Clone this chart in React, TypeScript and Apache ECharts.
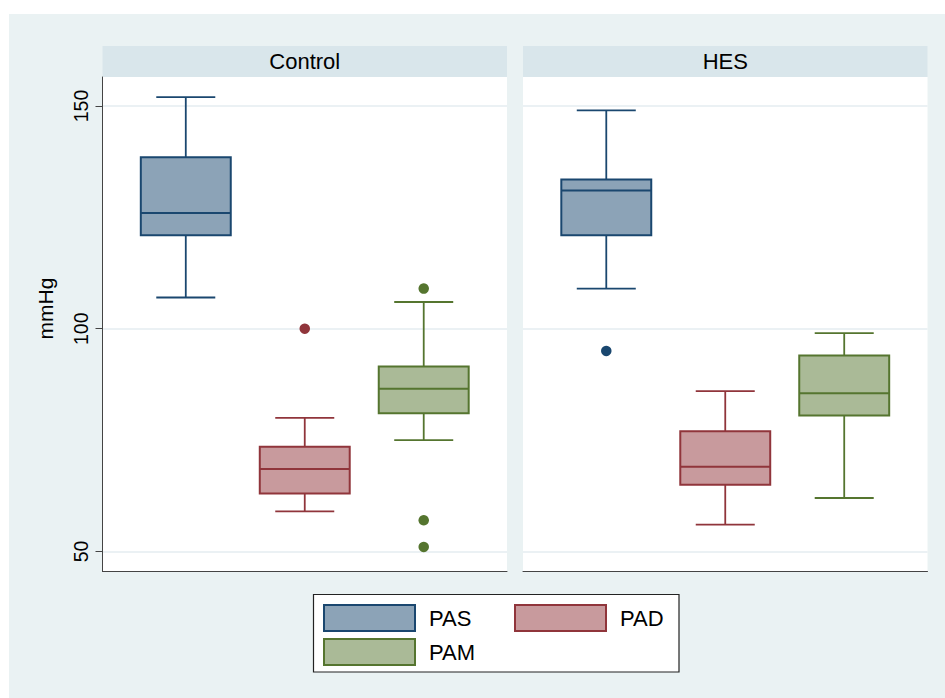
import React, { useEffect, useRef } from 'react';
import * as echarts from 'echarts';

const panels = ['Control', 'HES'];
const groups = ['PAS', 'PAD', 'PAM'];
const groupX = [1, 2, 3];
const yTicks = [50, 100, 150];

// [lower whisker, Q1, median, Q3, upper whisker]
const controlPAS = [107, 121, 126, 138.5, 152];
const controlPAD = [59, 63, 68.5, 73.5, 80];
const controlPAM = [75, 81, 86.5, 91.5, 106];
const hesPAS = [109, 121, 131, 133.5, 149];
const hesPAD = [56, 65, 69, 77, 86];
const hesPAM = [62, 80.5, 85.5, 94, 99];

// outside values
const controlPASOutliers: number[] = [];
const controlPADOutliers = [100];
const controlPAMOutliers = [109, 57, 51];
const hesPASOutliers = [95];
const hesPADOutliers: number[] = [];
const hesPAMOutliers: number[] = [];

const statsByPanel = [
  [controlPAS, controlPAD, controlPAM],
  [hesPAS, hesPAD, hesPAM],
];
const outliersByPanel = [
  [controlPASOutliers, controlPADOutliers, controlPAMOutliers],
  [hesPASOutliers, hesPADOutliers, hesPAMOutliers],
];

const strokeColors = ['#1a476f', '#90353b', '#55752f'];
const fillColors = ['#8ca3b7', '#c89a9d', '#aaba97'];
const FONT = '"Liberation Sans", Arial, Helvetica, sans-serif';

const BOX_HALF = 0.378;
const CAP_HALF = 0.248;

function makeRender(gi: number) {
  const stroke = strokeColors[gi];
  const fill = fillColors[gi];
  return (params: any, api: any) => {
    const x = api.value(0);
    const lo = api.value(1);
    const q1 = api.value(2);
    const med = api.value(3);
    const q3 = api.value(4);
    const hi = api.value(5);
    const pLo = api.coord([x, lo]);
    const pHi = api.coord([x, hi]);
    const pQ1 = api.coord([x, q1]);
    const pQ3 = api.coord([x, q3]);
    const boxTL = api.coord([x - BOX_HALF, q3]);
    const boxBR = api.coord([x + BOX_HALF, q1]);
    const medL = api.coord([x - BOX_HALF, med]);
    const medR = api.coord([x + BOX_HALF, med]);
    const capL = api.coord([x - CAP_HALF, hi])[0];
    const capR = api.coord([x + CAP_HALF, hi])[0];
    const ls = { stroke, lineWidth: 1.8 };
    return {
      type: 'group',
      children: [
        { type: 'line', shape: { x1: pHi[0], y1: pHi[1], x2: pQ3[0], y2: pQ3[1] }, style: ls },
        { type: 'line', shape: { x1: pQ1[0], y1: pQ1[1], x2: pLo[0], y2: pLo[1] }, style: ls },
        { type: 'line', shape: { x1: capL, y1: pHi[1], x2: capR, y2: pHi[1] }, style: ls },
        { type: 'line', shape: { x1: capL, y1: pLo[1], x2: capR, y2: pLo[1] }, style: ls },
        {
          type: 'rect',
          shape: { x: boxTL[0], y: boxTL[1], width: boxBR[0] - boxTL[0], height: boxBR[1] - boxTL[1] },
          style: { fill, stroke, lineWidth: 2 },
        },
        { type: 'line', shape: { x1: medL[0], y1: medL[1], x2: medR[0], y2: medR[1] }, style: { stroke, lineWidth: 2 } },
      ],
    };
  };
}

const gridLeft = [102.5, 523];
const gridTop = 77;
const gridW = 404.5;
const gridH = 494.5;

export default function App() {
  const ref = useRef<HTMLDivElement>(null);
  useEffect(() => {
    if (!ref.current) return;
    const chart = echarts.init(ref.current, null, { renderer: 'svg' });

    const series: any[] = [];
    panels.forEach((_, pi) => {
      groups.forEach((g, gi) => {
        series.push({
          type: 'custom',
          name: g,
          xAxisIndex: pi,
          yAxisIndex: pi,
          data: [[groupX[gi], ...statsByPanel[pi][gi]]],
          encode: { x: 0, y: [1, 2, 3, 4, 5] },
          renderItem: makeRender(gi),
          itemStyle: { color: fillColors[gi], borderColor: strokeColors[gi] },
          z: 2,
        });
        series.push({
          type: 'scatter',
          name: g,
          xAxisIndex: pi,
          yAxisIndex: pi,
          data: outliersByPanel[pi][gi].map((v) => [groupX[gi], v]),
          symbol: 'circle',
          symbolSize: 10.5,
          itemStyle: { color: strokeColors[gi], opacity: 1 },
          z: 3,
        });
      });
    });

    const legendItem = (gi: number) => ({
      name: groups[gi],
      icon: 'rect',
      itemStyle: { color: fillColors[gi], borderColor: strokeColors[gi], borderWidth: 2 },
    });
    const legendBase = {
      orient: 'vertical',
      itemWidth: 91,
      itemHeight: 26,
      itemGap: 6,
      padding: 0,
      textStyle: { fontSize: 22, lineHeight: 24, color: '#000', fontFamily: FONT, padding: [0, 0, 0, 9] },
    };

    const option: any = {
      animation: false,
      backgroundColor: 'transparent',
      grid: panels.map((_, pi) => ({
        left: gridLeft[pi],
        top: gridTop,
        width: gridW,
        height: gridH,
        show: true,
        backgroundColor: '#ffffff',
        borderWidth: 0,
        outerBoundsMode: 'none',
        containLabel: false,
      })),
      xAxis: panels.map((_, pi) => ({
        type: 'value',
        gridIndex: pi,
        min: 0.3,
        max: 3.7,
        axisLine: { show: true, onZero: false, lineStyle: { color: '#444', width: 1 } },
        axisTick: { show: false },
        axisLabel: { show: false },
        splitLine: { show: false },
      })),
      yAxis: panels.map((_, pi) => ({
        type: 'value',
        gridIndex: pi,
        min: 45.5,
        max: 156.5,
        axisLine: { show: pi === 0, onZero: false, lineStyle: { color: '#444', width: 1 } },
        axisTick: { show: pi === 0, length: 7, lineStyle: { color: '#444' }, customValues: yTicks },
        axisLabel: {
          show: pi === 0,
          rotate: 90,
          margin: 12,
          fontSize: 19.5,
          color: '#000',
          fontFamily: FONT,
          customValues: yTicks,
        },
        splitLine: { show: true, lineStyle: { color: '#e4edf0', width: 1.5 } },
      })),
      legend: [
        { ...legendBase, left: 323, top: 604, data: [legendItem(0), legendItem(2)] },
        { ...legendBase, left: 514, top: 604, data: [legendItem(1)] },
      ],
      graphic: [
        ...panels.map((p, pi) => ({
          type: 'rect',
          shape: { x: gridLeft[pi], y: 46, width: gridW, height: 31 },
          style: { fill: '#d9e6eb' },
          silent: true,
        })),
        ...panels.map((p, pi) => ({
          type: 'text',
          x: gridLeft[pi] + gridW / 2,
          y: 61.5,
          style: { text: p, fontSize: 22, fill: '#000', fontFamily: FONT, align: 'center', verticalAlign: 'middle' },
          silent: true,
        })),
        {
          type: 'text',
          x: 45.5,
          y: 308.5,
          rotation: Math.PI / 2,
          style: { text: 'mmHg', fontSize: 21, fill: '#000', fontFamily: FONT, align: 'center', verticalAlign: 'middle' },
          silent: true,
        },
        {
          type: 'rect',
          shape: { x: 313.5, y: 594.5, width: 365.5, height: 77.5 },
          style: { fill: '#ffffff', stroke: '#222', lineWidth: 1.2 },
          silent: true,
          z: -1,
        },
      ],
      series,
    };
    chart.setOption(option);
    return () => chart.dispose();
  }, []);

  return (
    <div style={{ position: 'fixed', left: 0, top: 0, width: 945, height: 698, background: '#ffffff' }}>
      <div style={{ position: 'absolute', left: 9, top: 14, right: 0, bottom: 0, background: '#eaf2f3' }} />
      <div ref={ref} style={{ position: 'absolute', left: 0, top: 0, width: 945, height: 698 }} />
    </div>
  );
}
